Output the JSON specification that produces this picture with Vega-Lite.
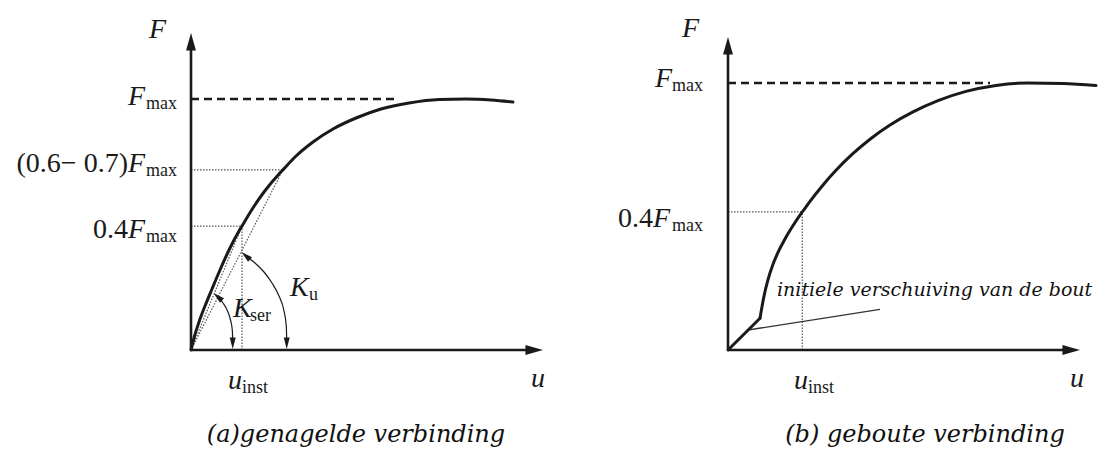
{
  "$schema": "https://vega.github.io/schema/vega-lite/v6.json",
  "background": "white",
  "padding": 0,
  "spacing": 0,
  "bounds": "flush",
  "config": {"view": {"stroke": null}},
  "datasets": {
    "guides": [
      {"panel": "a", "kind": "dotted", "u": 0, "F": 0.4, "u2": 1.4489, "F2": 0.4},
      {"panel": "a", "kind": "dotted", "u": 0, "F": 0.65, "u2": 2.6108, "F2": 0.65},
      {"panel": "a", "kind": "dotted", "u": 1.4489, "F": 0, "u2": 1.4489, "F2": 0.4},
      {"panel": "a", "kind": "dotted", "u": 0, "F": 0, "u2": 1.4489, "F2": 0.4},
      {"panel": "a", "kind": "dotted", "u": 0, "F": 0, "u2": 2.6108, "F2": 0.65},
      {"panel": "a", "kind": "dashed", "u": 0, "F": 1, "u2": 5.795, "F2": 1},
      {"panel": "a", "kind": "axis", "u": 0, "F": 0, "u2": 9.744, "F2": 0},
      {"panel": "a", "kind": "axis", "u": 0, "F": 0, "u2": 0, "F2": 1.30445},
      {"panel": "b", "kind": "dotted", "u": 0, "F": 0.4, "u2": 2.1108, "F2": 0.4},
      {"panel": "b", "kind": "dotted", "u": 2.1108, "F": 0, "u2": 2.1108, "F2": 0.4},
      {"panel": "b", "kind": "dashed", "u": 0, "F": 1, "u2": 7.443, "F2": 1},
      {"panel": "b", "kind": "axis", "u": 0, "F": 0, "u2": 9.744, "F2": 0},
      {"panel": "b", "kind": "axis", "u": 0, "F": 0, "u2": 0, "F2": 1.19751},
      {"panel": "b", "kind": "leader", "u": 0.568, "F": 0.02734, "u2": 4.318, "F2": 0.07334}
    ],
    "curves": [
      {"panel": "a", "part": "main", "u": 0, "F": 0},
      {"panel": "a", "part": "main", "u": 0.0852, "F": 0.019286},
      {"panel": "a", "part": "main", "u": 0.2273, "F": 0.057939},
      {"panel": "a", "part": "main", "u": 0.3977, "F": 0.104182},
      {"panel": "a", "part": "main", "u": 0.5966, "F": 0.159297},
      {"panel": "a", "part": "main", "u": 0.8239, "F": 0.226491},
      {"panel": "a", "part": "main", "u": 1.0795, "F": 0.302646},
      {"panel": "a", "part": "main", "u": 1.3636, "F": 0.379353},
      {"panel": "a", "part": "main", "u": 1.4489, "F": 0.4},
      {"panel": "a", "part": "main", "u": 1.7045, "F": 0.464196},
      {"panel": "a", "part": "main", "u": 2.0739, "F": 0.548188},
      {"panel": "a", "part": "main", "u": 2.5, "F": 0.630678},
      {"panel": "a", "part": "main", "u": 2.6108, "F": 0.65},
      {"panel": "a", "part": "main", "u": 2.9545, "F": 0.710842},
      {"panel": "a", "part": "main", "u": 3.4659, "F": 0.783418},
      {"panel": "a", "part": "main", "u": 4.0341, "F": 0.847627},
      {"panel": "a", "part": "main", "u": 4.6875, "F": 0.902823},
      {"panel": "a", "part": "main", "u": 5.3977, "F": 0.94857},
      {"panel": "a", "part": "main", "u": 6.1932, "F": 0.979353},
      {"panel": "a", "part": "main", "u": 7.0455, "F": 0.997414},
      {"panel": "a", "part": "main", "u": 7.8125, "F": 1.0},
      {"panel": "a", "part": "main", "u": 8.5227, "F": 0.994829},
      {"panel": "a", "part": "main", "u": 9.1477, "F": 0.984506},
      {"panel": "b", "part": "slip", "u": 0, "F": 0},
      {"panel": "b", "part": "slip", "u": 0.9091, "F": 0.05185},
      {"panel": "b", "part": "main", "u": 0.9091, "F": 0.05185},
      {"panel": "b", "part": "main", "u": 1.0227, "F": 0.108365},
      {"panel": "b", "part": "main", "u": 1.1364, "F": 0.156681},
      {"panel": "b", "part": "main", "u": 1.2784, "F": 0.206652},
      {"panel": "b", "part": "main", "u": 1.4205, "F": 0.246975},
      {"panel": "b", "part": "main", "u": 1.5909, "F": 0.28906},
      {"panel": "b", "part": "main", "u": 1.7898, "F": 0.333716},
      {"panel": "b", "part": "main", "u": 2.0455, "F": 0.387419},
      {"panel": "b", "part": "main", "u": 2.1108, "F": 0.4},
      {"panel": "b", "part": "main", "u": 2.3295, "F": 0.443578},
      {"panel": "b", "part": "main", "u": 2.6705, "F": 0.507337},
      {"panel": "b", "part": "main", "u": 3.0682, "F": 0.576948},
      {"panel": "b", "part": "main", "u": 3.5227, "F": 0.648706},
      {"panel": "b", "part": "main", "u": 4.0341, "F": 0.720162},
      {"panel": "b", "part": "main", "u": 4.6023, "F": 0.78841},
      {"panel": "b", "part": "main", "u": 5.2557, "F": 0.852903},
      {"panel": "b", "part": "main", "u": 5.9659, "F": 0.909383},
      {"panel": "b", "part": "main", "u": 6.7614, "F": 0.956574},
      {"panel": "b", "part": "main", "u": 7.6136, "F": 0.987537},
      {"panel": "b", "part": "main", "u": 8.5227, "F": 1.0},
      {"panel": "b", "part": "main", "u": 9.517, "F": 0.99792},
      {"panel": "b", "part": "main", "u": 10.4545, "F": 0.986501}
    ],
    "arcs": [
      {"panel": "a", "arc": "Kser", "u": 0.767, "F": 0.13269},
      {"panel": "a", "arc": "Kser", "u": 0.909, "F": 0.11349},
      {"panel": "a", "arc": "Kser", "u": 1.037, "F": 0.08909},
      {"panel": "a", "arc": "Kser", "u": 1.122, "F": 0.06337},
      {"panel": "a", "arc": "Kser", "u": 1.173, "F": 0.03744},
      {"panel": "a", "arc": "Kser", "u": 1.185, "F": 0.01522},
      {"panel": "a", "arc": "Ku", "u": 1.5625, "F": 0.27929},
      {"panel": "a", "arc": "Ku", "u": 1.818, "F": 0.25259},
      {"panel": "a", "arc": "Ku", "u": 2.074, "F": 0.21918},
      {"panel": "a", "arc": "Ku", "u": 2.301, "F": 0.17992},
      {"panel": "a", "arc": "Ku", "u": 2.5, "F": 0.13596},
      {"panel": "a", "arc": "Ku", "u": 2.642, "F": 0.08909},
      {"panel": "a", "arc": "Ku", "u": 2.707, "F": 0.04742},
      {"panel": "a", "arc": "Ku", "u": 2.719, "F": 0.01522}
    ],
    "heads": [
      {"panel": "a", "kind": "axis-u", "u": 9.744, "F": 0},
      {"panel": "a", "kind": "axis-F", "u": 0, "F": 1.30445},
      {"panel": "a", "kind": "arc-start", "u": 0.767, "F": 0.13269},
      {"panel": "a", "kind": "arc-start", "u": 1.5625, "F": 0.27929},
      {"panel": "a", "kind": "arc-end", "u": 1.185, "F": 0.009571},
      {"panel": "a", "kind": "arc-end", "u": 2.719, "F": 0.009571},
      {"panel": "b", "kind": "axis-u", "u": 9.744, "F": 0},
      {"panel": "b", "kind": "axis-F", "u": 0, "F": 1.19751}
    ],
    "labels": [
      {"panel": "a", "kind": "symbol", "label": "F", "u": -1.193, "F": 1.3265},
      {"panel": "a", "kind": "symbol", "label": "F", "u": -1.79, "F": 0.96907},
      {"panel": "a", "kind": "sub", "label": "max", "u": -1.278, "F": 0.96907},
      {"panel": "a", "kind": "prefix", "label": "(0.6− 0.7)", "u": -1.79, "F": 0.63999},
      {"panel": "a", "kind": "symbol", "label": "F", "u": -1.79, "F": 0.63999},
      {"panel": "a", "kind": "sub", "label": "max", "u": -1.278, "F": 0.63999},
      {"panel": "a", "kind": "prefix", "label": "0.4", "u": -1.79, "F": 0.35067},
      {"panel": "a", "kind": "symbol", "label": "F", "u": -1.79, "F": 0.35067},
      {"panel": "a", "kind": "sub", "label": "max", "u": -1.278, "F": 0.35067},
      {"panel": "a", "kind": "symbol", "label": "u", "u": 1.051, "F": -0.08909},
      {"panel": "a", "kind": "sub", "label": "inst", "u": 1.449, "F": -0.08909},
      {"panel": "a", "kind": "symbol", "label": "u", "u": 9.659, "F": -0.08322},
      {"panel": "a", "kind": "symbol", "label": "K", "u": 1.193, "F": 0.0717},
      {"panel": "a", "kind": "sub", "label": "ser", "u": 1.676, "F": 0.0717},
      {"panel": "a", "kind": "symbol", "label": "K", "u": 2.8125, "F": 0.13596},
      {"panel": "a", "kind": "sub", "label": "u", "u": 3.352, "F": 0.13596},
      {"panel": "a", "kind": "caption", "label": "(a)genagelde verbinding", "u": 4.6875, "F": -0.2716},
      {"panel": "b", "kind": "symbol", "label": "F", "u": -1.307, "F": 1.24703},
      {"panel": "b", "kind": "symbol", "label": "F", "u": -2.074, "F": 0.97925},
      {"panel": "b", "kind": "sub", "label": "max", "u": -1.591, "F": 0.97925},
      {"panel": "b", "kind": "prefix", "label": "0.4", "u": -2.131, "F": 0.34083},
      {"panel": "b", "kind": "symbol", "label": "F", "u": -2.131, "F": 0.34083},
      {"panel": "b", "kind": "sub", "label": "max", "u": -1.591, "F": 0.34083},
      {"panel": "b", "kind": "symbol", "label": "u", "u": 1.875, "F": -0.06914},
      {"panel": "b", "kind": "sub", "label": "inst", "u": 2.273, "F": -0.06914},
      {"panel": "b", "kind": "symbol", "label": "u", "u": 9.716, "F": -0.06427},
      {"panel": "b", "kind": "note", "label": "initiele verschuiving van de bout", "u": 1.392, "F": 0.10862},
      {"panel": "b", "kind": "caption", "label": "(b) geboute verbinding", "u": 5.597, "F": -0.22766}
    ]
  },
  "hconcat": [
    {
      "width": 550,
      "height": 450,
      "encoding": {
        "x": {"field": "u", "type": "quantitative", "axis": null,
              "scale": {"domain": [-5.42614, 10.19886], "nice": false, "zero": false}},
        "y": {"field": "F", "type": "quantitative", "axis": null,
              "scale": {"type": "pow", "exponent": 0.77, "domain": [-0.302646, 1.53998], "nice": false, "zero": false}}
      },
      "layer": [
        {"data": {"name": "guides"}, "transform": [{"filter": "datum.panel == 'a' && datum.kind == 'dotted'"}],
         "mark": {"type": "rule", "color": "#555555", "strokeWidth": 1.2, "strokeDash": [1.5, 1.5]},
         "encoding": {"x2": {"field": "u2"}, "y2": {"field": "F2"}}},
        {"data": {"name": "guides"}, "transform": [{"filter": "datum.panel == 'a' && datum.kind == 'dashed'"}],
         "mark": {"type": "rule", "color": "#1a1a1a", "strokeWidth": 2.5, "strokeDash": [8, 5]},
         "encoding": {"x2": {"field": "u2"}, "y2": {"field": "F2"}}},
        {"data": {"name": "guides"}, "transform": [{"filter": "datum.panel == 'a' && datum.kind == 'axis'"}],
         "mark": {"type": "rule", "color": "#1a1a1a", "strokeWidth": 2.6},
         "encoding": {"x2": {"field": "u2"}, "y2": {"field": "F2"}}},
        {"data": {"name": "curves"}, "transform": [{"filter": "datum.panel == 'a'"}],
         "mark": {"type": "line", "interpolate": "monotone", "color": "#1a1a1a", "strokeWidth": 3, "strokeCap": "round", "strokeJoin": "round"},
         "encoding": {"detail": {"field": "part"}}},
        {"data": {"name": "arcs"}, "transform": [{"filter": "datum.panel == 'a'"}],
         "mark": {"type": "line", "interpolate": "monotone", "color": "#1a1a1a", "strokeWidth": 1.2},
         "encoding": {"detail": {"field": "arc"}}},
        {"data": {"name": "heads"}, "transform": [{"filter": "datum.panel == 'a' && datum.kind == 'axis-u'"}],
         "mark": {"type": "point", "shape": "M1,0L-0.95,0.55L-0.95,-0.55Z", "size": 324, "filled": true, "color": "#1a1a1a", "opacity": 1, "strokeWidth": 0}},
        {"data": {"name": "heads"}, "transform": [{"filter": "datum.panel == 'a' && datum.kind == 'axis-F'"}],
         "mark": {"type": "point", "shape": "M0,-1L0.55,0.95L-0.55,0.95Z", "size": 324, "filled": true, "color": "#1a1a1a", "opacity": 1, "strokeWidth": 0}},
        {"data": {"name": "heads"}, "transform": [{"filter": "datum.panel == 'a' && datum.kind == 'arc-start'"}],
         "mark": {"type": "point", "shape": "M0,-1L0.5,0.9L-0.5,0.9Z", "size": 144, "angle": 311, "filled": true, "color": "#1a1a1a", "opacity": 1, "strokeWidth": 0}},
        {"data": {"name": "heads"}, "transform": [{"filter": "datum.panel == 'a' && datum.kind == 'arc-end'"}],
         "mark": {"type": "point", "shape": "M0,-1L0.5,0.9L-0.5,0.9Z", "size": 144, "angle": 180, "filled": true, "color": "#1a1a1a", "opacity": 1, "strokeWidth": 0}},
        {"data": {"name": "labels"}, "transform": [{"filter": "datum.panel == 'a' && datum.kind == 'prefix'"}],
         "mark": {"type": "text", "font": "Liberation Serif", "fontSize": 28, "align": "right", "baseline": "alphabetic", "color": "#1a1a1a"},
         "encoding": {"text": {"field": "label"}}},
        {"data": {"name": "labels"}, "transform": [{"filter": "datum.panel == 'a' && datum.kind == 'symbol'"}],
         "mark": {"type": "text", "font": "Liberation Serif", "fontStyle": "italic", "fontSize": 28, "align": "left", "baseline": "alphabetic", "color": "#1a1a1a"},
         "encoding": {"text": {"field": "label"}}},
        {"data": {"name": "labels"}, "transform": [{"filter": "datum.panel == 'a' && datum.kind == 'sub'"}],
         "mark": {"type": "text", "font": "Liberation Serif", "fontSize": 18, "align": "left", "baseline": "alphabetic", "dy": 4, "color": "#1a1a1a"},
         "encoding": {"text": {"field": "label"}}},
        {"data": {"name": "labels"}, "transform": [{"filter": "datum.panel == 'a' && datum.kind == 'caption'"}],
         "mark": {"type": "text", "font": "DejaVu Serif", "fontStyle": "italic", "fontSize": 24, "align": "center", "baseline": "alphabetic", "color": "#111111"},
         "encoding": {"text": {"field": "label"}}}
      ]
    },
    {
      "width": 550,
      "height": 450,
      "encoding": {
        "x": {"field": "u", "type": "quantitative", "axis": null,
              "scale": {"domain": [-5.05682, 10.56818], "nice": false, "zero": false}},
        "y": {"field": "F", "type": "quantitative", "axis": null,
              "scale": {"type": "pow", "exponent": 0.72, "domain": [-0.255646, 1.456313], "nice": false, "zero": false}}
      },
      "layer": [
        {"data": {"name": "guides"}, "transform": [{"filter": "datum.panel == 'b' && datum.kind == 'dotted'"}],
         "mark": {"type": "rule", "color": "#555555", "strokeWidth": 1.2, "strokeDash": [1.5, 1.5]},
         "encoding": {"x2": {"field": "u2"}, "y2": {"field": "F2"}}},
        {"data": {"name": "guides"}, "transform": [{"filter": "datum.panel == 'b' && datum.kind == 'dashed'"}],
         "mark": {"type": "rule", "color": "#1a1a1a", "strokeWidth": 2.5, "strokeDash": [8, 5]},
         "encoding": {"x2": {"field": "u2"}, "y2": {"field": "F2"}}},
        {"data": {"name": "guides"}, "transform": [{"filter": "datum.panel == 'b' && datum.kind == 'leader'"}],
         "mark": {"type": "rule", "color": "#333333", "strokeWidth": 1.3},
         "encoding": {"x2": {"field": "u2"}, "y2": {"field": "F2"}}},
        {"data": {"name": "guides"}, "transform": [{"filter": "datum.panel == 'b' && datum.kind == 'axis'"}],
         "mark": {"type": "rule", "color": "#1a1a1a", "strokeWidth": 2.6},
         "encoding": {"x2": {"field": "u2"}, "y2": {"field": "F2"}}},
        {"data": {"name": "curves"}, "transform": [{"filter": "datum.panel == 'b'"}],
         "mark": {"type": "line", "interpolate": "monotone", "color": "#1a1a1a", "strokeWidth": 3, "strokeCap": "round", "strokeJoin": "round"},
         "encoding": {"detail": {"field": "part"}}},
        {"data": {"name": "heads"}, "transform": [{"filter": "datum.panel == 'b' && datum.kind == 'axis-u'"}],
         "mark": {"type": "point", "shape": "M1,0L-0.95,0.55L-0.95,-0.55Z", "size": 324, "filled": true, "color": "#1a1a1a", "opacity": 1, "strokeWidth": 0}},
        {"data": {"name": "heads"}, "transform": [{"filter": "datum.panel == 'b' && datum.kind == 'axis-F'"}],
         "mark": {"type": "point", "shape": "M0,-1L0.55,0.95L-0.55,0.95Z", "size": 324, "filled": true, "color": "#1a1a1a", "opacity": 1, "strokeWidth": 0}},
        {"data": {"name": "labels"}, "transform": [{"filter": "datum.panel == 'b' && datum.kind == 'prefix'"}],
         "mark": {"type": "text", "font": "Liberation Serif", "fontSize": 28, "align": "right", "baseline": "alphabetic", "color": "#1a1a1a"},
         "encoding": {"text": {"field": "label"}}},
        {"data": {"name": "labels"}, "transform": [{"filter": "datum.panel == 'b' && datum.kind == 'symbol'"}],
         "mark": {"type": "text", "font": "Liberation Serif", "fontStyle": "italic", "fontSize": 28, "align": "left", "baseline": "alphabetic", "color": "#1a1a1a"},
         "encoding": {"text": {"field": "label"}}},
        {"data": {"name": "labels"}, "transform": [{"filter": "datum.panel == 'b' && datum.kind == 'sub'"}],
         "mark": {"type": "text", "font": "Liberation Serif", "fontSize": 18, "align": "left", "baseline": "alphabetic", "dy": 4, "color": "#1a1a1a"},
         "encoding": {"text": {"field": "label"}}},
        {"data": {"name": "labels"}, "transform": [{"filter": "datum.panel == 'b' && datum.kind == 'note'"}],
         "mark": {"type": "text", "font": "DejaVu Serif", "fontStyle": "italic", "fontSize": 19, "align": "left", "baseline": "alphabetic", "color": "#111111"},
         "encoding": {"text": {"field": "label"}}},
        {"data": {"name": "labels"}, "transform": [{"filter": "datum.panel == 'b' && datum.kind == 'caption'"}],
         "mark": {"type": "text", "font": "DejaVu Serif", "fontStyle": "italic", "fontSize": 24, "align": "center", "baseline": "alphabetic", "color": "#111111"},
         "encoding": {"text": {"field": "label"}}}
      ]
    }
  ]
}
